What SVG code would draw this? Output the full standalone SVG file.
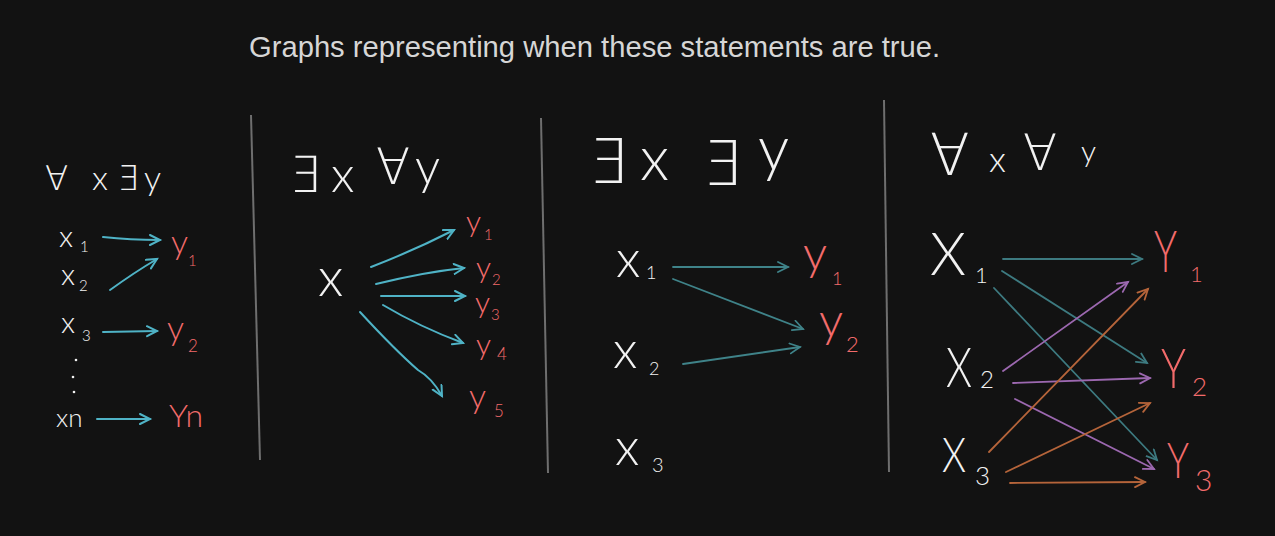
<svg xmlns="http://www.w3.org/2000/svg" width="1275" height="536" viewBox="0 0 1275 536">
<defs>
<style>
.t{font-family:"Liberation Sans",Arial,sans-serif;font-size:29.2px;fill:#d6d6d6}
.w{font-family:Lato,"DejaVu Sans",sans-serif;font-weight:300;fill:#f2f2f2}
.r{font-family:Lato,"DejaVu Sans",sans-serif;font-weight:300;fill:#f26b6b}
.div{stroke:#6e6e6e;stroke-width:2;fill:none}
.c{stroke:#4fb3c6;stroke-width:2;fill:none;stroke-linecap:round}
.d{stroke:#3f8389;stroke-width:1.8;fill:none;stroke-linecap:round}
.tl{stroke:#3d7a80;stroke-width:1.8;fill:none;stroke-linecap:round}
.pu{stroke:#9c68b0;stroke-width:1.8;fill:none;stroke-linecap:round}
.or{stroke:#b5643a;stroke-width:1.8;fill:none;stroke-linecap:round}
</style>
<marker id="mc" markerUnits="userSpaceOnUse" markerWidth="14" markerHeight="14" refX="11" refY="6" orient="auto"><path d="M1,1 L11,6 L1,11" fill="none" stroke="#4fb3c6" stroke-width="2" stroke-linecap="round"/></marker>
<marker id="md" markerUnits="userSpaceOnUse" markerWidth="14" markerHeight="14" refX="11" refY="6" orient="auto"><path d="M1,1 L11,6 L1,11" fill="none" stroke="#3f8389" stroke-width="1.8" stroke-linecap="round"/></marker>
<marker id="mtl" markerUnits="userSpaceOnUse" markerWidth="14" markerHeight="14" refX="11" refY="6" orient="auto"><path d="M1,1 L11,6 L1,11" fill="none" stroke="#3d7a80" stroke-width="1.8" stroke-linecap="round"/></marker>
<marker id="mpu" markerUnits="userSpaceOnUse" markerWidth="14" markerHeight="14" refX="11" refY="6" orient="auto"><path d="M1,1 L11,6 L1,11" fill="none" stroke="#9c68b0" stroke-width="1.8" stroke-linecap="round"/></marker>
<marker id="mor" markerUnits="userSpaceOnUse" markerWidth="14" markerHeight="14" refX="11" refY="6" orient="auto"><path d="M1,1 L11,6 L1,11" fill="none" stroke="#b5643a" stroke-width="1.8" stroke-linecap="round"/></marker>
</defs>
<rect width="1275" height="536" fill="#121212"/>
<text class="t" x="249" y="57">Graphs representing when these statements are true.</text>
<g id="dividers">
<line class="div" x1="251" y1="115" x2="260" y2="460"/>
<line class="div" x1="541" y1="118" x2="548" y2="473"/>
<line class="div" x1="884" y1="100" x2="889" y2="472"/>
</g>
<!-- Panel 1 -->
<g id="p1-header"><text class="w" font-size="34" x="45 92 117 144" y="190">∀x∃y</text></g>
<g id="p1-x1"><text class="w" font-size="30" x="59" y="247">x</text><text class="w" font-size="15" x="80" y="252">1</text></g>
<g id="p1-x2"><text class="w" font-size="30" x="61" y="285">x</text><text class="w" font-size="15" x="79" y="291">2</text></g>
<g id="p1-x3"><text class="w" font-size="30" x="61" y="333">x</text><text class="w" font-size="15" x="82" y="341">3</text></g>
<g id="p1-dots" fill="#f2f2f2"><circle cx="76" cy="360" r="1.3"/><circle cx="73" cy="377" r="1.3"/><circle cx="74" cy="392" r="1.3"/></g>
<g id="p1-xn"><text class="w" font-size="26" x="56" y="427">xn</text></g>
<g id="p1-y1"><text class="r" font-size="34" x="171" y="254">y</text><text class="r" font-size="15" x="188" y="266">1</text></g>
<g id="p1-y2"><text class="r" font-size="34" x="167" y="340">y</text><text class="r" font-size="17" x="188" y="352">2</text></g>
<g id="p1-yn"><text class="r" font-size="32" x="169" y="427">Yn</text></g>
<!-- Panel 2 -->
<g id="p2-header"><text class="w" font-size="50" x="289 331 376 415" y="192 192 184 184">∃x∀y</text></g>
<g id="p2-x"><text class="w" font-size="54" x="318" y="296">x</text></g>
<g id="p2-y1"><text class="r" font-size="30" x="466" y="232">y</text><text class="r" font-size="15" x="484" y="240">1</text></g>
<g id="p2-y2"><text class="r" font-size="30" x="476" y="278">y</text><text class="r" font-size="15" x="492" y="285">2</text></g>
<g id="p2-y3"><text class="r" font-size="30" x="475" y="313">y</text><text class="r" font-size="15" x="491" y="320">3</text></g>
<g id="p2-y4"><text class="r" font-size="30" x="476" y="355">y</text><text class="r" font-size="17" x="497" y="360">4</text></g>
<g id="p2-y5"><text class="r" font-size="34" x="469" y="408">y</text><text class="r" font-size="17" x="494" y="417">5</text></g>
<!-- Panel 3 -->
<g id="p3-header"><text class="w" font-size="62" x="588 640 702 758" y="183 180 185 170">∃x∃y</text></g>
<g id="p3-x1"><text class="w" font-size="52" x="616" y="277">x</text><text class="w" font-size="18" x="646" y="279">1</text></g>
<g id="p3-x2"><text class="w" font-size="52" x="613" y="368">x</text><text class="w" font-size="18" x="649" y="375">2</text></g>
<g id="p3-x3"><text class="w" font-size="52" x="615" y="465">x</text><text class="w" font-size="20" x="652" y="472">3</text></g>
<g id="p3-y1"><text class="r" font-size="48" x="803" y="270">y</text><text class="r" font-size="18" x="832" y="285">1</text></g>
<g id="p3-y2"><text class="r" font-size="48" x="819" y="337">y</text><text class="r" font-size="22" x="846" y="352">2</text></g>
<!-- Panel 4 -->
<g id="p4-header"><text class="w" font-size="58" x="930" y="175">∀</text><text class="w" font-size="36" x="989" y="172">x</text><text class="w" font-size="50" x="1023" y="170">∀</text><text class="w" font-size="30" x="1081" y="162">y</text></g>
<g id="p4-x1"><text class="w" font-size="60" x="930" y="275" textLength="36" lengthAdjust="spacingAndGlyphs">X</text><text class="w" font-size="22" x="975" y="283">1</text></g>
<g id="p4-x2"><text class="w" font-size="56" x="946" y="387" textLength="26" lengthAdjust="spacingAndGlyphs">X</text><text class="w" font-size="24" x="980" y="388">2</text></g>
<g id="p4-x3"><text class="w" font-size="48" x="942" y="472" textLength="24" lengthAdjust="spacingAndGlyphs">X</text><text class="w" font-size="26" x="975" y="485">3</text></g>
<g id="p4-y1"><text class="r" font-size="58" x="1154" y="272" textLength="23" lengthAdjust="spacingAndGlyphs">Y</text><text class="r" font-size="22" x="1190" y="282">1</text></g>
<g id="p4-y2"><text class="r" font-size="56" x="1161" y="388" textLength="25" lengthAdjust="spacingAndGlyphs">Y</text><text class="r" font-size="26" x="1192" y="396">2</text></g>
<g id="p4-y3"><text class="r" font-size="50" x="1167" y="478" textLength="22" lengthAdjust="spacingAndGlyphs">Y</text><text class="r" font-size="30" x="1195" y="491">3</text></g>
<g id="connectors">
<path class="c" marker-end="url(#mc)" d="M103,237 Q130,240 160,240"/>
<path class="c" marker-end="url(#mc)" d="M110,290 Q135,272 157,259"/>
<path class="c" marker-end="url(#mc)" d="M103,332 L157,331"/>
<path class="c" marker-end="url(#mc)" d="M97,419 L150,419"/>
<path class="c" marker-end="url(#mc)" d="M371,267 Q415,250 454,230"/>
<path class="c" marker-end="url(#mc)" d="M376,284 Q425,272 464,268"/>
<path class="c" marker-end="url(#mc)" d="M381,296 L465,296"/>
<path class="c" marker-end="url(#mc)" d="M383,305 Q420,327 463,343"/>
<path class="c" marker-end="url(#mc)" d="M360,312 Q395,350 418,370 Q432,378 442,396"/>
<path class="d" marker-end="url(#md)" d="M673,267 L788,267"/>
<path class="d" marker-end="url(#md)" d="M673,279 L803,329"/>
<path class="d" marker-end="url(#md)" d="M683,364 L800,347"/>
<path class="tl" marker-end="url(#mtl)" d="M1003,259 L1142,259"/>
<path class="tl" marker-end="url(#mtl)" d="M1002,271 L1147,363"/>
<path class="tl" marker-end="url(#mtl)" d="M994,288 L1157,460"/>
<path class="pu" marker-end="url(#mpu)" d="M1003,371 L1128,282"/>
<path class="pu" marker-end="url(#mpu)" d="M1013,383 L1150,378"/>
<path class="pu" marker-end="url(#mpu)" d="M1015,399 L1154,469"/>
<path class="or" marker-end="url(#mor)" d="M989,452 L1148,289"/>
<path class="or" marker-end="url(#mor)" d="M1006,472 L1150,403"/>
<path class="or" marker-end="url(#mor)" d="M1010,483 L1145,482"/>
</g>
</svg>
